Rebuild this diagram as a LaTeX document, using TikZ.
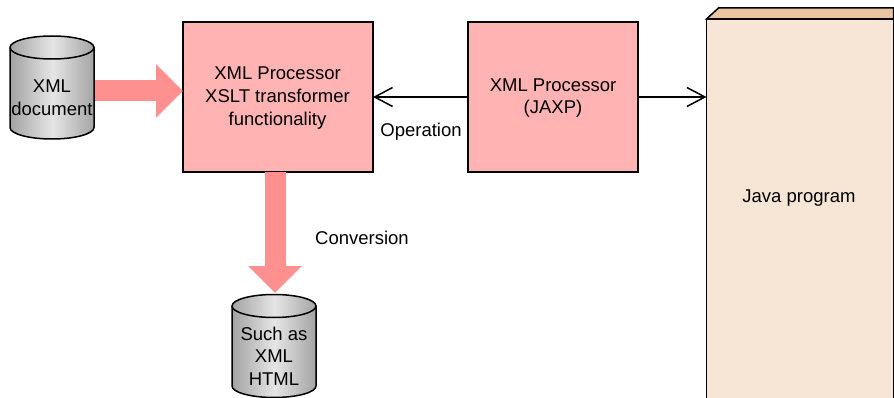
\documentclass[tikz,border=0pt]{standalone}
\usepackage{fontspec}
\setmainfont{Liberation Sans}
\usetikzlibrary{positioning,arrows.meta}
\definecolor{procred}{HTML}{FFB3B3}
\definecolor{fatred}{HTML}{FF9090}
\definecolor{javabody}{HTML}{F7E6D6}
\definecolor{javatop}{HTML}{E8C4A0}
\tikzset{
	proc/.style={draw=black,line width=1.5pt,fill=procred,inner sep=0pt,outer sep=0pt,minimum height=150pt},
	store/.style={minimum width=84pt,minimum height=103pt,inner sep=0pt,outer sep=0pt},
	fat/.style={draw=fatred,line width=21pt,-{Triangle[length=27pt,width=52pt,fill=fatred]}},
	thin/.style={line width=1.5pt,-{Straight Barb[length=18pt,width=19pt]}},
	txt/.style={inner sep=0pt,align=center}
}
% drum outline round an empty store node
\newcommand{\drumpath}[1]{(#1.north west) ++(0,11.5) arc[start angle=180,end angle=0,x radius=42pt,y radius=11.5pt]
	-- ++(0,80) arc[start angle=0,end angle=-180,x radius=42pt,y radius=11.5pt] -- cycle}
\newcommand{\drum}[1]{
	\begin{scope}
		\clip \drumpath{#1};
		\foreach \i in {0,...,42} {
			\pgfmathsetmacro{\shadeval}{10+26*abs(\i-21)/21}
			\fill[black!\shadeval] (#1.north west) ++(2*\i,0) rectangle ++(2.6,103);
		}
	\end{scope}
	\draw[line width=1.5pt] \drumpath{#1};
	\draw[line width=1.5pt] (#1.north west) ++(0,11.5) arc[start angle=180,end angle=360,x radius=42pt,y radius=11.5pt];
}
\begin{document}
\begin{tikzpicture}[x=1pt,y=-1pt,font=\fontsize{18.5}{22.7}\selectfont]
	\useasboundingbox (0,0) rectangle (894,398);
	\node[proc,minimum width=190pt] (xslt) at (278,97) {};
	\node[proc,minimum width=170pt] (jaxp) [right=95pt of xslt] {};
	\node[txt] (xslttext) at (277.5,98) {XML Processor\\XSLT transformer\\functionality};
	\node[txt] (jaxptext) at (553,98) {XML Processor\\(JAXP)};
	\node[store] (doc) at (52,87.5) {};
	\node[store] (out) at (274,346) {};
	\node[draw=black,line width=1.5pt,fill=javabody,minimum width=187pt,minimum height=400pt,inner sep=0pt,outer sep=0pt] (java) at (800,219) {};
	\node[txt] (javatext) at (799,198.5) {Java program};
	\draw[line width=1.5pt,fill=javatop] (java.north west) -- ++(12,-11) -- (java.north east |- 0,8) -- (java.north east) -- cycle;
	\draw[fat] (doc.east |- 0,91) -- (xslt.west |- 0,91);
	\draw[fat,shorten >=1.5pt] (xslt.south -| 275,0) -- (out.north -| 275,0);
	\drum{doc}
	\drum{out}
	\node[txt] (doctext) at (52,97.5) {XML\\document};
	\node[txt] (outtext) at (274,356) {Such as\\XML\\HTML};
	\draw[thin] (jaxp.west) -- (xslt.east);
	\draw[thin] (jaxp.east) -- (jaxp.east -| java.west);
	\node[txt] (oplabel) at (421,131.5) {Operation};
	\node[txt] (convlabel) at (362,238) {Conversion};
\end{tikzpicture}
\end{document}
